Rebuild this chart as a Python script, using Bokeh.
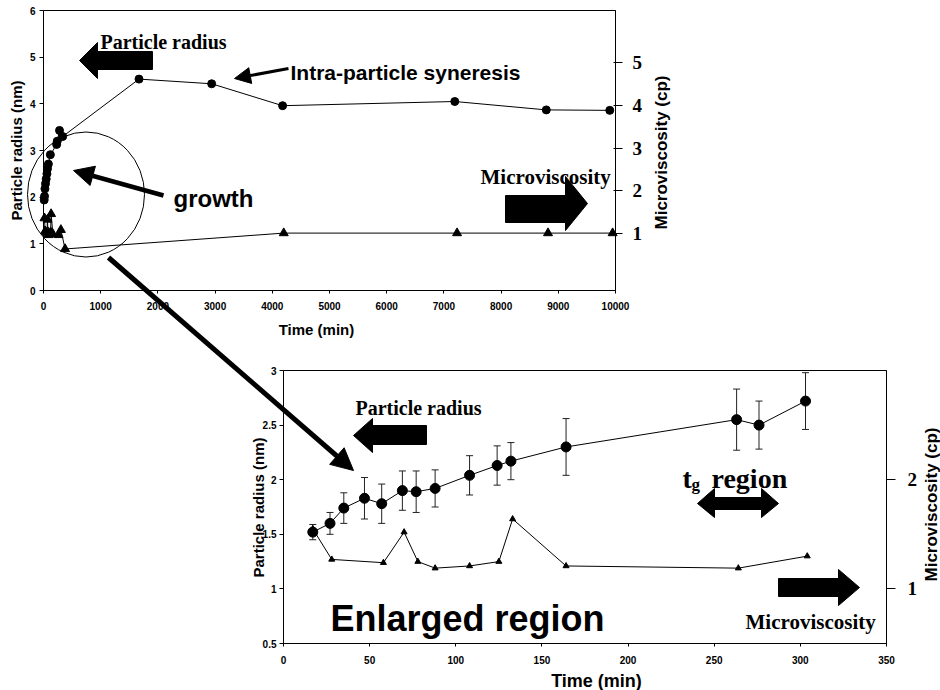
import numpy as np
from bokeh.plotting import figure
from bokeh.models import (Range1d, LinearAxis, FixedTicker, Label, Arrow, NormalHead,
                          Whisker, TeeHead, ColumnDataSource)
from bokeh.embed import file_html
from bokeh.resources import INLINE

SANS = "Liberation Sans"
SERIF = "Liberation Serif"

# ---------------- data ----------------
# Overview panel: particle radius (nm) vs time (min)
overview_time = [12, 18, 25, 35, 47, 60, 70, 85, 120, 230, 240, 280, 335,
                 1670, 2940, 4180, 7190, 8790, 9900]
overview_radius = [1.94, 2.02, 2.18, 2.29, 2.39, 2.50, 2.61, 2.71, 2.91, 3.13, 3.20, 3.43, 3.30,
                   4.53, 4.43, 3.96, 4.05, 3.87, 3.86]

# Enlarged region: particle radius (nm) with error bars
enl_time = [17, 27, 35, 47, 57, 69, 77, 88, 108, 124, 132, 164, 263, 276, 303]
enl_radius = [1.52, 1.60, 1.74, 1.83, 1.78, 1.90, 1.89, 1.92, 2.04, 2.13, 2.17, 2.30, 2.55, 2.50, 2.72]
enl_radius_err = [0.07, 0.10, 0.14, 0.19, 0.18, 0.18, 0.19, 0.17, 0.18, 0.18, 0.17, 0.26, 0.28, 0.22, 0.26]

# Microviscosity (cp)
mv_time = [17, 28, 58, 70, 78, 88, 108, 125, 133, 164, 264, 304]
mv_value = [1.55, 1.27, 1.24, 1.52, 1.25, 1.19, 1.21, 1.25, 1.64, 1.21, 1.19, 1.30]
mv_late_time = [377, 4200, 7230, 8820, 9950]
mv_late_value = [0.89, 1.23, 1.23, 1.23, 1.23]

# Axis limits and tick values
top_x_lim = (0, 10000)
top_y_lim = (0, 6)
enl_x_lim = (0, 350)
enl_y_lim = (0.5, 3)
top_x_ticks = [0, 1000, 2000, 3000, 4000, 5000, 6000, 7000, 8000, 9000, 10000]
top_y_ticks = [0, 1, 2, 3, 4, 5, 6]
top_mv_ticks = [1, 2, 3, 4, 5]
enl_x_ticks = [0, 50, 100, 150, 200, 250, 300, 350]
enl_y_ticks = [0.5, 1, 1.5, 2, 2.5, 3]
enl_mv_ticks = [1, 2]

# ---------------- page layout (pixels) ----------------
W, H = 940, 690
F1 = dict(left=43, right=615, top=10, bottom=290)      # overview panel box
F2 = dict(left=283, right=886, top=370, bottom=643)    # enlarged panel box
MV1 = dict(v0=1, p0=233.3, v1=5, p1=61.7)              # overview right axis placement


def lin(v0, p0, v1, p1):
    return lambda pp: v0 + (pp - p0) * (v1 - v0) / (p1 - p0)


def xrange_for(v0, p0, v1, p1):
    f = lin(v0, p0, v1, p1)
    return Range1d(f(0), f(W))


def yrange_for(v0, p0, v1, p1):
    f = lin(v0, p0, v1, p1)
    return Range1d(f(H), f(0))


p = figure(width=W, height=H, x_range=Range1d(0, W), y_range=Range1d(H, 0),
           x_axis_location=None, y_axis_location=None, output_backend="svg",
           toolbar_location=None, min_border=0, min_border_left=0, min_border_right=0,
           min_border_top=0, min_border_bottom=0)
p.outline_line_color = None
p.background_fill_color = "white"
p.border_fill_color = "white"
p.xgrid.visible = False
p.ygrid.visible = False

p.extra_x_ranges = {
    "t1": xrange_for(top_x_lim[0], F1["left"], top_x_lim[1], F1["right"]),
    "t2": xrange_for(enl_x_lim[0], F2["left"], enl_x_lim[1], F2["right"]),
}
p.extra_y_ranges = {
    "r1": yrange_for(top_y_lim[0], F1["bottom"], top_y_lim[1], F1["top"]),
    "mv1": yrange_for(MV1["v0"], MV1["p0"], MV1["v1"], MV1["p1"]),
    "r2": yrange_for(enl_y_lim[0], F2["bottom"], enl_y_lim[1], F2["top"]),
}
mv1_at = lin(MV1["v0"], MV1["p0"], MV1["v1"], MV1["p1"])


def make_axis(side, xr, yr, loc, bounds, ticks, tick_font, tick_size, tick_out, tick_in, standoff):
    ax = LinearAxis(x_range_name=xr, y_range_name=yr, fixed_location=loc, bounds=bounds,
                    ticker=FixedTicker(ticks=ticks))
    ax.major_label_text_font = tick_font
    ax.major_label_text_font_size = tick_size
    ax.major_label_text_font_style = "bold"
    ax.major_label_text_color = "black"
    ax.major_tick_out = tick_out
    ax.major_tick_in = tick_in
    ax.major_tick_line_color = "black"
    ax.minor_tick_line_color = None
    ax.axis_line_color = "black"
    ax.major_label_standoff = standoff
    p.add_layout(ax, side)
    return ax


def text(s, x, y, font, size, align="left", baseline="alphabetic", angle=0.0):
    p.add_layout(Label(x=x, y=y, text=s, text_font=font, text_font_size=size,
                       text_font_style="bold", text_color="black", text_align=align,
                       text_baseline=baseline, angle=angle))


def block_arrow(pts):
    p.patch([a for a, b in pts], [b for a, b in pts], color="black")


def arrow(x0, y0, x1, y1, lw, head):
    p.add_layout(Arrow(x_start=x0, y_start=y0, x_end=x1, y_end=y1, line_width=lw,
                       line_color="black",
                       end=NormalHead(size=head, fill_color="black", line_color="black")))


# ---------------- overview panel ----------------
p.quad(left=[top_x_lim[0]], right=[top_x_lim[1]], bottom=[top_y_lim[0]], top=[top_y_lim[1]],
       fill_color=None, line_color="black", line_width=1, x_range_name="t1", y_range_name="r1")
make_axis("below", "t1", "r1", top_y_lim[0], top_x_lim, top_x_ticks, SANS, "10px", 3, 0, 8)
make_axis("left", "t1", "r1", top_x_lim[0], top_y_lim, top_y_ticks, SANS, "10px", 4, 0, 4)
make_axis("right", "t1", "mv1", top_x_lim[1], (mv1_at(F1["bottom"]), mv1_at(F1["top"])),
          top_mv_ticks, SERIF, "19px", 7, 2, 10)
text("Time (min)", 316, 329, SANS, "15px", "center", "middle")
text("Particle radius (nm)", 16, 150, SANS, "15px", "center", "middle", np.pi / 2)
text("Microviscosity (cp)", 661, 152, SANS, "17px", "center", "middle", np.pi / 2)

p.line(overview_time, overview_radius, color="black", line_width=1, x_range_name="t1", y_range_name="r1")
p.scatter(overview_time, overview_radius, marker="circle", size=8, color="black",
          x_range_name="t1", y_range_name="r1")
top_mv_t = mv_time + mv_late_time
top_mv_v = mv_value + mv_late_value
p.line(top_mv_t, top_mv_v, color="black", line_width=1, x_range_name="t1", y_range_name="r1")
p.scatter(top_mv_t, top_mv_v, marker="triangle", size=9, color="black",
          x_range_name="t1", y_range_name="r1")

# ---------------- enlarged panel ----------------
p.quad(left=[enl_x_lim[0]], right=[enl_x_lim[1]], bottom=[enl_y_lim[0]], top=[enl_y_lim[1]],
       fill_color=None, line_color="black", line_width=1, x_range_name="t2", y_range_name="r2")
make_axis("below", "t2", "r2", enl_y_lim[0], enl_x_lim, enl_x_ticks, SANS, "10px", 3, 0, 9)
ay2 = make_axis("left", "t2", "r2", enl_x_lim[0], enl_y_lim, enl_y_ticks, SANS, "10px", 4, 0, 3)
ay2.major_label_overrides = {1: "1", 2: "2", 3: "3"}
ar2 = make_axis("right", "t2", "r2", enl_x_lim[1], enl_y_lim, enl_mv_ticks, SERIF, "19px", 9, 0, 12)
ar2.major_label_overrides = {1: "1", 2: "2"}
text("Time (min)", 596, 680, SANS, "18px", "center", "middle")
text("Particle radius (nm)", 258, 507, SANS, "15px", "center", "middle", np.pi / 2)
text("Microviscosity (cp)", 931, 504, SANS, "17px", "center", "middle", np.pi / 2)

err_src = ColumnDataSource(dict(
    t=enl_time,
    upper=[r + e for r, e in zip(enl_radius, enl_radius_err)],
    lower=[r - e for r, e in zip(enl_radius, enl_radius_err)],
))
p.add_layout(Whisker(source=err_src, base="t", upper="upper", lower="lower",
                     line_color="#222222", line_width=1, x_range_name="t2", y_range_name="r2",
                     upper_head=TeeHead(size=7, line_color="#222222", line_width=1),
                     lower_head=TeeHead(size=7, line_color="#222222", line_width=1)))
p.line(enl_time, enl_radius, color="black", line_width=1, x_range_name="t2", y_range_name="r2")
p.scatter(enl_time, enl_radius, marker="circle", size=10, color="black",
          x_range_name="t2", y_range_name="r2")
p.line(mv_time, mv_value, color="black", line_width=1, x_range_name="t2", y_range_name="r2")
p.scatter(mv_time, mv_value, marker="triangle", size=6, color="black",
          x_range_name="t2", y_range_name="r2")

# ---------------- annotations (page pixel coordinates) ----------------
text("Particle radius", 100, 41.5, SERIF, "20px")
block_arrow([(79, 60), (97, 42), (97, 51), (152, 51), (152, 69), (97, 69), (97, 78)])
text("Intra-particle syneresis", 290, 71.5, SANS, "21px")
arrow(288, 68, 234, 78, 3, 16)
text("growth", 173, 198, SANS, "24px")
arrow(163, 195, 73, 170, 4.5, 20)
p.ellipse(x=[85.5], y=[194], width=[117], height=[125], fill_color=None,
          line_color="black", line_width=1)
text("Microviscosity", 480, 176.5, SERIF, "21px")
block_arrow([(505, 195), (565, 195), (565, 176), (587, 203), (565, 230), (565, 222), (505, 222)])
arrow(108, 257, 353, 470, 5, 22)

text("Particle radius", 355, 407.5, SERIF, "20px")
block_arrow([(353, 435), (372, 418), (372, 425), (426, 425), (426, 444), (372, 444), (372, 452)])
text("Enlarged region", 330, 618, SANS, "36px")
text("t", 682, 477.5, SERIF, "28px")
text("g", 691, 484, SERIF, "17px")
text("region", 711, 477.5, SERIF, "28px")
block_arrow([(697, 503), (714, 488), (714, 497), (761, 497), (761, 488), (778, 503),
             (761, 517), (761, 509), (714, 509), (714, 517)])
block_arrow([(778, 578), (838, 578), (838, 569), (859, 587), (838, 605), (838, 596), (778, 596)])
text("Microviscosity", 745, 621.5, SERIF, "21px")

open("out.html", "w").write(file_html(p, INLINE))
